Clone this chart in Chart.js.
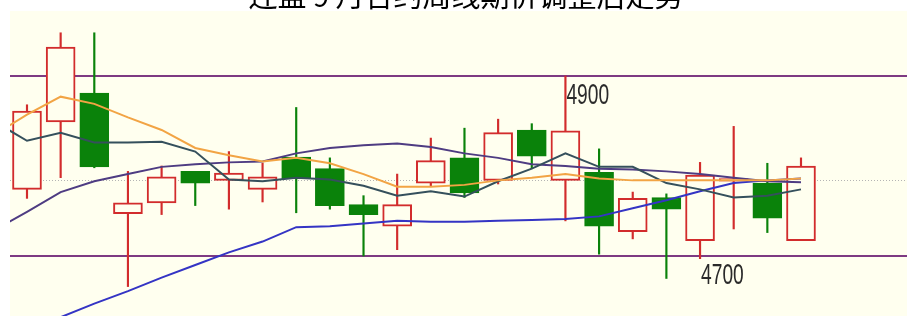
<!DOCTYPE html>
<html>
<head>
<meta charset="utf-8">
<script src="https://cdn.jsdelivr.net/npm/chart.js@4/dist/chart.umd.min.js"></script>
<style>
  html, body { margin: 0; padding: 0; background: #ffffff; }
  #wrap { width: 907px; height: 316px; position: relative; overflow: hidden; }
  canvas { display: block; }
</style>
</head>
<body>
<div id="wrap"><canvas id="c" width="907" height="316"></canvas></div>
<script>
// ---- data ----
const titleText = "连盘 9 月合约周线期价调整后走势";
const weeks  = [0,1,2,3,4,5,6,7,8,9,10,11,12,13,14,15,16,17,18,19,20,21,22,23];
const opens  = [4774,4849,4881,4747,4759,4794,4784,4774,4810,4797,4757,4733,4781,4809,4784,4840,4784,4793,4727,4765,4717,4783,4781,4717];
const highs  = [4868,4948,4948,4794,4800,4794,4816,4803,4865,4809,4767,4791,4831,4842,4852,4847,4900,4819,4771,4769,4804,4844,4803,4809];
const lows   = [4764,4787,4798,4666,4746,4756,4752,4760,4748,4752,4700,4707,4777,4765,4780,4797,4739,4702,4719,4675,4697,4730,4726,4717];
const closes = [4861,4932,4799,4759,4788,4781,4792,4788,4786,4756,4746,4757,4806,4770,4837,4811,4839,4733,4764,4752,4790,4786,4742,4800];

// moving-average lines (first value belongs to the week before the first shown candle)
const maWeeks = [-1,0,1,2,3,4,5,6,7,8,9,10,11,12,13,14,15,16,17,18,19,20,21,22,23];
const maOrange = [4834,4857,4877,4869,4854,4840,4820,4812,4805,4809,4803,4791,4777,4777,4779,4784,4787,4791,4786,4784,4784,4784,4784,4784,4786];
const maGray   = [4850,4828,4837,4826,4826,4827,4816,4785,4783,4787,4785,4778,4767,4772,4766,4783,4797,4814,4799,4799,4781,4774,4765,4767,4774];
const maPurple = [4728,4749,4771,4783,4791,4799,4802,4804,4805,4814,4820,4823,4825,4821,4814,4809,4802,4800,4797,4796,4794,4791,4787,4783,4782];
const maBlue   = [4603,4617,4632,4647,4661,4676,4690,4704,4716,4732,4733,4736,4739,4738,4738,4739,4740,4741,4744,4753,4762,4772,4781,4784,4786];

const levelLines = [4900, 4700];
const refLevel = 4784;
const labelTexts  = ["4900", "4700"];
const labelWeeks  = [16, 20];
const labelPrices = [4900, 4700];

// ---- styles ----
const CREAM = "#FFFFEF";
const RED = "#D22C2C";
const GREEN = "#0A820A";

const up = weeks.map(i => closes[i] >= opens[i]);

const bodyData = weeks.map(i => ({ x: i, y: [opens[i], closes[i]] }));
const wickData = weeks.map(i => ({ x: i, y: [lows[i], highs[i]] }));
const ma = arr => maWeeks.map((w, k) => ({ x: w, y: arr[k] }));

const bgPlugin = {
  id: "bg",
  beforeDraw(chart) {
    const { ctx, chartArea: a } = chart;
    ctx.save();
    ctx.fillStyle = CREAM;
    ctx.fillRect(a.left, a.top, a.right - a.left, a.bottom - a.top);
    ctx.restore();
  },
  beforeDatasetsDraw(chart) {
    const { ctx, chartArea: a, scales } = chart;
    const y = scales.y;
    ctx.save();
    ctx.strokeStyle = "#b4b4b4";
    ctx.lineWidth = 1;
    ctx.setLineDash([1, 2]);
    const ry = Math.round(y.getPixelForValue(refLevel)) + 0.5;
    ctx.beginPath(); ctx.moveTo(a.left, ry); ctx.lineTo(a.right, ry); ctx.stroke();
    ctx.setLineDash([]);
    ctx.strokeStyle = "#7E3A82";
    ctx.lineWidth = 2;
    levelLines.forEach(v => {
      const py = Math.round(y.getPixelForValue(v));
      ctx.beginPath(); ctx.moveTo(a.left, py); ctx.lineTo(a.right, py); ctx.stroke();
    });
    ctx.restore();
  },
  afterDraw(chart) {
    const { ctx, scales } = chart;
    ctx.save();
    ctx.fillStyle = "#2a2a2a";
    ctx.font = '30px "Liberation Sans", Arial, sans-serif';
    ctx.textBaseline = "alphabetic";
    ctx.textAlign = "left";
    labelTexts.forEach((t, k) => {
      const px = scales.x.getPixelForValue(labelWeeks[k]) + 1;
      const py = scales.y.getPixelForValue(labelPrices[k]) + 28.5;
      ctx.save();
      ctx.translate(px, py);
      ctx.scale(0.64, 1);
      ctx.fillText(t, 0, 0);
      ctx.restore();
    });
    ctx.fillStyle = "#000000";
    ctx.font = '29px "Noto Sans CJK SC", sans-serif';
    ctx.textAlign = "center";
    ctx.textBaseline = "ideographic";
    ctx.fillText(titleText, 466, 10);
    ctx.restore();
  }
};

new Chart(document.getElementById("c"), {
  type: "bar",
  data: {
    datasets: [
      {
        type: "line", label: "MA5", data: ma(maOrange),
        borderColor: "#F2A444", borderWidth: 2, pointRadius: 0, tension: 0, order: 1
      },
      {
        type: "line", label: "MA10", data: ma(maGray),
        borderColor: "#35505C", borderWidth: 2, pointRadius: 0, tension: 0, order: 2
      },
      {
        type: "line", label: "MA20", data: ma(maPurple),
        borderColor: "#4E3C82", borderWidth: 2, pointRadius: 0, tension: 0, order: 3
      },
      {
        type: "line", label: "MA60", data: ma(maBlue),
        borderColor: "#3434C4", borderWidth: 2, pointRadius: 0, tension: 0, order: 4
      },
      {
        label: "body", data: bodyData, grouped: false, barThickness: 29,
        backgroundColor: weeks.map(i => up[i] ? CREAM : GREEN),
        borderColor: weeks.map(i => up[i] ? RED : GREEN),
        borderWidth: 2, borderSkipped: false, order: 5
      },
      {
        label: "wick", data: wickData, grouped: false, barThickness: 1.5,
        backgroundColor: weeks.map(i => up[i] ? RED : GREEN),
        borderWidth: 0, order: 6
      }
    ]
  },
  options: {
    responsive: false,
    animation: false,
    events: [],
    layout: { padding: { left: 10, top: 11, right: 0, bottom: 0 } },
    plugins: { legend: { display: false }, tooltip: { enabled: false }, title: { display: false } },
    scales: {
      x: { type: "linear", min: -0.505, max: 26.15, display: false, offset: false },
      y: { type: "linear", min: 4633.3, max: 4972.2, display: false }
    }
  },
  plugins: [bgPlugin]
});
</script>
</body>
</html>
